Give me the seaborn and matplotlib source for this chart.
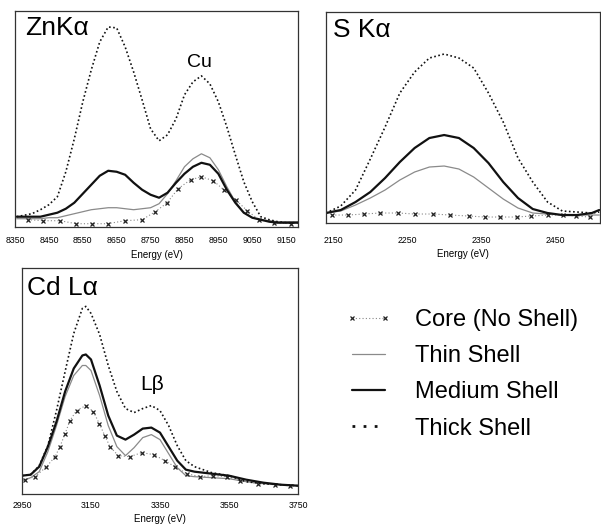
import matplotlib
matplotlib.use("Agg")
import matplotlib.pyplot as plt
from matplotlib.lines import Line2D
import seaborn as sns

# ZnKa / Cu region
zn_e = [8355, 8400, 8425, 8450, 8475, 8500, 8525, 8550, 8575, 8600, 8625, 8650, 8675,
        8700, 8725, 8750, 8775, 8800, 8825, 8850, 8875, 8900, 8925, 8950, 8975, 9000,
        9025, 9050, 9075, 9100, 9125, 9150, 9185]
zn_thick = [10, 13, 17, 22, 30, 55, 88, 125, 157, 185, 200, 199, 180, 155, 127, 98, 86,
            92, 108, 132, 145, 151, 143, 125, 100, 72, 45, 25, 10, 7, 5, 4, 4]
zn_medium = [10, 10, 10, 12, 14, 18, 24, 33, 42, 51, 56, 55, 52, 44, 37, 32, 29, 34, 44,
             53, 60, 64, 62, 53, 37, 24, 14, 9, 7, 5, 4, 4, 4]
zn_thin = [8, 8, 8, 9, 9, 11, 13, 15, 17, 18, 19, 19, 18, 17, 18, 19, 23, 33, 46, 60, 68,
           73, 69, 57, 40, 25, 14, 9, 7, 6, 5, 5, 5]
zn_core_e = [8387, 8434, 8483, 8530, 8577, 8623, 8675, 8725, 8764, 8799, 8831, 8868,
             8900, 8935, 8966, 9001, 9035, 9070, 9114, 9164]
zn_core = [7, 6, 6, 3, 3, 3, 6, 7, 15, 24, 38, 47, 50, 46, 37, 27, 16, 7, 4, 3]

# S Ka region
s_e = [2140, 2160, 2180, 2200, 2220, 2240, 2260, 2280, 2300, 2320, 2340, 2360, 2380,
       2400, 2420, 2440, 2460, 2480, 2500, 2510]
s_thick = [10, 17, 33, 64, 96, 130, 151, 165, 169, 165, 155, 130, 101, 65, 41, 21, 12,
           11, 10, 11]
s_medium = [10, 13, 21, 31, 45, 61, 75, 85, 88, 85, 75, 60, 41, 25, 14, 10, 8, 8, 10, 13]
s_thin = [10, 12, 18, 25, 33, 43, 51, 56, 57, 54, 46, 35, 24, 15, 10, 9, 8, 8, 8, 8]
s_core_e = [2148, 2170, 2191, 2213, 2238, 2260, 2285, 2308, 2333, 2355, 2376, 2398,
            2418, 2441, 2461, 2479, 2497]
s_core = [8, 8, 9, 10, 10, 9, 9, 8, 7, 6, 6, 6, 7, 8, 8, 7, 6]

# Cd La / Lb region
cd_e = [2950, 2975, 3000, 3025, 3050, 3075, 3100, 3125, 3135, 3150, 3175, 3200, 3225,
        3250, 3275, 3300, 3325, 3350, 3375, 3400, 3425, 3450, 3500, 3550, 3600, 3650,
        3700, 3750]
cd_thick = [18, 19, 28, 48, 83, 122, 160, 185, 187, 180, 159, 128, 102, 85, 81, 85, 88,
            83, 68, 48, 33, 27, 21, 18, 12, 10, 9, 8]
cd_medium = [18, 19, 27, 47, 72, 102, 125, 138, 139, 134, 108, 78, 58, 54, 59, 65, 66,
             61, 47, 33, 24, 22, 20, 18, 14, 11, 9, 8]
cd_thin = [13, 16, 22, 42, 68, 97, 118, 128, 128, 123, 98, 68, 47, 38, 46, 56, 59, 54,
           40, 26, 18, 17, 16, 15, 12, 10, 9, 8]
cd_core_e = [2959, 2988, 3021, 3046, 3060, 3075, 3089, 3108, 3135, 3157, 3174, 3190,
             3205, 3229, 3263, 3297, 3332, 3364, 3393, 3429, 3465, 3504, 3543, 3581,
             3634, 3683, 3726]
cd_core = [14, 17, 27, 37, 47, 60, 73, 83, 88, 82, 70, 58, 47, 38, 37, 41, 39, 33, 27,
           20, 17, 18, 17, 13, 10, 9, 8]

labels = ["Core (No Shell)", "Thin Shell", "Medium Shell", "Thick Shell"]

sns.set_style("white")
plt.rcParams["font.family"] = ["Liberation Sans", "DejaVu Sans"]
plt.rcParams["text.color"] = "black"
plt.rcParams["axes.labelcolor"] = "black"
plt.rcParams["xtick.color"] = "black"
plt.rcParams["ytick.color"] = "#333333"

styles = {
    "core": dict(color="#888888", linestyle=(0, (1, 2)), linewidth=0.8,
                 marker="x", markersize=3.2, markeredgewidth=0.9,
                 markeredgecolor="#222222"),
    "thin": dict(color="#8a8a8a", linestyle="-", linewidth=0.9),
    "medium": dict(color="#111111", linestyle="-", linewidth=1.6),
    "thick": dict(color="#111111", linestyle=(0, (1, 1.5)), linewidth=1.2),
}

fig = plt.figure(figsize=(6.01, 5.25), dpi=100)
ax1 = fig.add_axes([0.02496, 0.5682, 0.4709, 0.4109])
ax2 = fig.add_axes([0.5424, 0.5752, 0.4559, 0.4019])
ax3 = fig.add_axes([0.0366, 0.0596, 0.4592, 0.4293])


def draw(ax, e, thick, medium, thin, core_e, core):
    sns.lineplot(x=e, y=thin, ax=ax, **styles["thin"])
    sns.lineplot(x=core_e, y=core, ax=ax, **styles["core"])
    sns.lineplot(x=e, y=medium, ax=ax, **styles["medium"])
    sns.lineplot(x=e, y=thick, ax=ax, **styles["thick"])
    for s in ax.spines.values():
        s.set_color("#333333")
        s.set_linewidth(0.9)
    ax.tick_params(axis="both", direction="in", length=2.5, width=0.6, labelsize=6.3)
    ax.set_xlabel("Energy (eV)", fontsize=7, labelpad=3)


draw(ax1, zn_e, zn_thick, zn_medium, zn_thin, zn_core_e, zn_core)
ax1.set_xlim(8350, 9185)
ax1.set_ylim(0, 216)
ax1.set_xticks([8350, 8450, 8550, 8650, 8750, 8850, 8950, 9050, 9150])
ax1.set_yticks([40, 80, 120, 160, 200])
ax1.set_yticklabels([])
ax1.tick_params(axis="x", pad=7)
ax1.text(0.035, 0.889, "ZnK\u03b1", transform=ax1.transAxes, fontsize=19,
         va="baseline", ha="left")
ax1.text(8894, 164, "Cu", fontsize=14, ha="center", va="center")

draw(ax2, s_e, s_thick, s_medium, s_thin, s_core_e, s_core)
ax2.set_xlim(2140, 2511)
ax2.set_ylim(0, 211)
ax2.set_xticks([2150, 2250, 2350, 2450])
ax2.set_yticks([27, 54, 81, 108, 135, 162, 189])
ax2.set_yticklabels([])
ax2.tick_params(axis="x", pad=9)
ax2.text(0.026, 0.882, "S K\u03b1", transform=ax2.transAxes, fontsize=19,
         va="baseline", ha="left")

draw(ax3, cd_e, cd_thick, cd_medium, cd_thin, cd_core_e, cd_core)
ax3.set_xlim(2950, 3750)
ax3.set_ylim(0, 225)
ax3.set_xticks([2950, 3150, 3350, 3550, 3750])
ax3.set_yticks([40, 80, 120, 160, 200])
ax3.set_yticklabels([])
ax3.tick_params(axis="x", pad=5)
ax3.text(0.018, 0.880, "Cd L\u03b1", transform=ax3.transAxes, fontsize=19,
         va="baseline", ha="left")
ax3.text(3327, 109, "L\u03b2", fontsize=15, ha="center", va="center")

handles = [Line2D([], [], **styles[k]) for k in ["core", "thin", "medium", "thick"]]
handles[3] = Line2D([], [], color="#111111", linestyle=(0, (1, 3)), linewidth=2.0)
fig.legend(handles, labels, loc="center left", bbox_to_anchor=(0.574, 0.287),
           frameon=False, fontsize=17, handlelength=2.0, handletextpad=0.95,
           labelspacing=0.6, borderpad=0, borderaxespad=0, numpoints=2)

fig.savefig("out.png", dpi=100)
